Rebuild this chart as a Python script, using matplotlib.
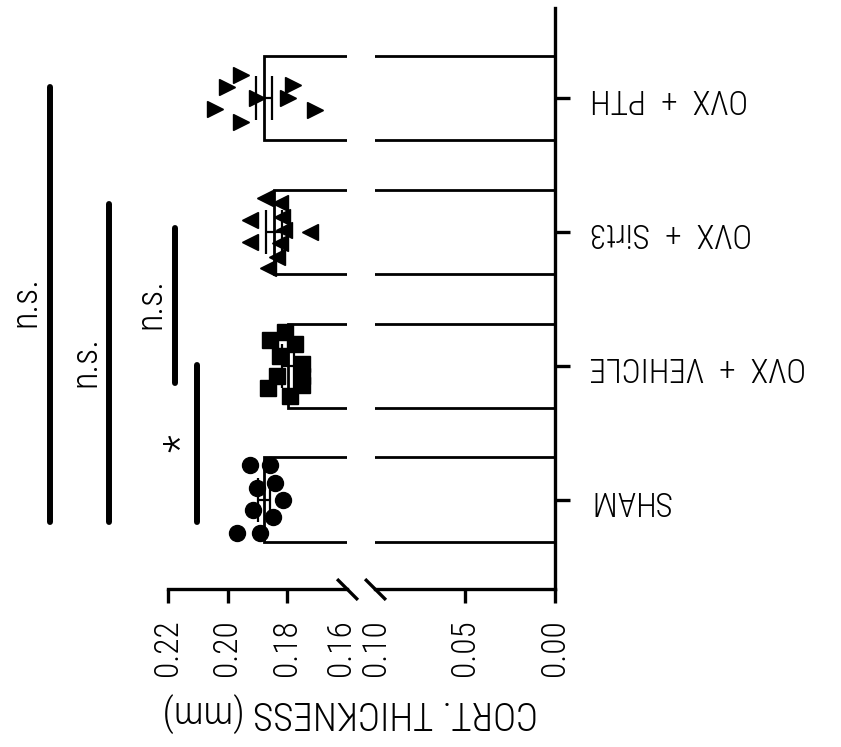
import matplotlib
matplotlib.use("Agg")
import matplotlib.pyplot as plt
from matplotlib import font_manager as fm
from matplotlib.transforms import ScaledTranslation

# ---- data -------------------------------------------------------------
groups = ["SHAM", "OVX  +  VEHICLE", "OVX  +  Sirt3", "OVX  +  PTH"]
means = [0.1876, 0.1796, 0.1843, 0.1877]
sems = [0.0020, 0.0020, 0.0026, 0.0027]

sham_vals = [0.1924, 0.1857, 0.1902, 0.1840, 0.1812, 0.1913, 0.1846, 0.1969, 0.1891]
vehicle_vals = [0.1807, 0.1857, 0.1773, 0.1824, 0.1751, 0.1750, 0.1835, 0.1863, 0.1790, 0.1751]
sirt3_vals = [0.1874, 0.1924, 0.1924, 0.1863, 0.1723, 0.1824, 0.1817, 0.1810, 0.1824, 0.1834]
pth_vals = [0.1956, 0.2003, 0.2042, 0.1956, 0.1902, 0.1779, 0.1796, 0.1706]

upper_ticks = [0.22, 0.20, 0.18]
upper_labels = ["0.22", "0.20", "0.18"]
lower_ticks = [0.05, 0.00]
lower_labels = ["0.05", "0.00"]
break_hi, break_hi_label = 0.16, "0.16"
break_lo, break_lo_label = 0.10, "0.10"

comparisons = ["*", "n.s.", "n.s.", "n.s."]

# ---- layout helpers -----------------------------------------------------
# sideways spread of the dots inside each column (category units)
sham_spread = [0.258, 0.258, 0.084, 0.121, -0.004, -0.079, -0.129, -0.253, -0.248]
vehicle_spread = [0.251, 0.193, 0.163, 0.076, 0.013, -0.074, -0.074, -0.166, -0.224, -0.141]
sirt3_spread = [0.252, 0.090, -0.073, -0.272, 0.000, 0.217, 0.112, 0.015, -0.082, -0.187]
pth_spread = [0.174, 0.087, -0.082, -0.175, 0.000, 0.100, 0.000, -0.088]

# comparison bars: (value position, start, end, label value position, label centre)
bracket_layout = [
    (0.2104, -0.166, 1.006, 0.2155, 0.42),
    (0.2176, 0.874, 2.030, 0.2260, 1.462),
    (0.2397, -0.166, 2.210, 0.2479, 1.028),
    (0.2597, -0.166, 3.088, 0.2680, 1.477),
]

# ---- fonts ----------------------------------------------------------------
available = {f.name for f in fm.fontManager.ttflist}
family = "DejaVu Sans"
for cand in ["Liberation Sans Narrow", "Roboto Condensed", "DejaVu Sans Condensed",
             "Liberation Sans"]:
    if cand in available:
        family = cand
        break
plt.rcParams["font.family"] = [family, "DejaVu Sans"]
plt.rcParams["font.weight"] = "light"

W, H = 841, 747
fig = plt.figure(figsize=(W / 100, H / 100), dpi=100)
fig.patch.set_facecolor("white")

ax_hi = fig.add_axes([168 / W, 158 / H, 178.5 / W, 581 / H])
ax_lo = fig.add_axes([375 / W, 158 / H, 180 / W, 581 / H])

pos = list(range(len(groups)))
ylim = (-0.669, 3.675)

for ax in (ax_hi, ax_lo):
    ax.barh(pos, means, height=0.63, color="white", edgecolor="black",
            linewidth=2.0, zorder=1)
    ax.set_ylim(*ylim)
    ax.set_facecolor("none")
    for s in ("top", "left", "right"):
        ax.spines[s].set_visible(False)
    ax.spines["bottom"].set_linewidth(2.4)

ax_hi.set_xlim(0.22, 0.16)
ax_lo.set_xlim(0.10, 0.0)
ax_lo.spines["right"].set_visible(True)
ax_lo.spines["right"].set_linewidth(2.4)

# value axis ticks
tick_kw = dict(direction="out", length=10, width=2.4, pad=12, labelsize=24,
               labelrotation=90)
ax_hi.set_xticks(upper_ticks, upper_labels)
ax_hi.set_xticks([break_hi], [break_hi_label], minor=True)
ax_lo.set_xticks(lower_ticks, lower_labels)
ax_lo.set_xticks([break_lo], [break_lo_label], minor=True)
for ax in (ax_hi, ax_lo):
    ax.tick_params(axis="x", which="major", **tick_kw)
    ax.tick_params(axis="x", which="minor", direction="out", length=0, width=0,
                   pad=22, labelsize=24, labelrotation=90)

# nudge the two labels at the axis break apart
for lab in ax_hi.xaxis.get_minorticklabels():
    lab.set_transform(lab.get_transform() +
                      ScaledTranslation(-4 / 72, 0, fig.dpi_scale_trans))
for lab in ax_lo.xaxis.get_minorticklabels():
    lab.set_transform(lab.get_transform() +
                      ScaledTranslation(1 / 72, 0, fig.dpi_scale_trans))

# category axis on the right
ax_hi.set_yticks([])
ax_lo.yaxis.tick_right()
ax_lo.set_yticks(pos, groups)
ax_lo.tick_params(axis="y", direction="out", length=11, width=2.4, pad=14,
                  labelsize=24, labelrotation=180)
for lab in ax_lo.get_yticklabels():
    lab.set_va("center")

# broken-axis marks
slash = [(-1, 1), (1, -1)]
ax_hi.plot([1], [0], transform=ax_hi.transAxes, marker=slash, ms=15,
           mec="black", mew=2.4, ls="none", clip_on=False)
ax_lo.plot([0], [0], transform=ax_lo.transAxes, marker=slash, ms=15,
           mec="black", mew=2.4, ls="none", clip_on=False)

# SEM error bars
ax_hi.errorbar(means, pos, xerr=sems, fmt="none", ecolor="black",
               elinewidth=1.6, capsize=16, capthick=1.6, zorder=2)

# individual animals
series = [
    (sham_vals, sham_spread, "o", 11.5),
    (vehicle_vals, vehicle_spread, "s", 11.0),
    (sirt3_vals, sirt3_spread, "<", 12.0),
    (pth_vals, pth_spread, ">", 12.0),
]
for p, (vals, spread, marker, ms) in zip(pos, series):
    ys = [p + d for d in spread]
    ax_hi.plot(vals, ys, ls="none", marker=marker, ms=ms, color="black",
               mec="black", zorder=3, clip_on=False)

# comparison bars
for (xv, y0, y1, lx, ly), lab in zip(bracket_layout, comparisons):
    ax_hi.plot([xv, xv], [y0, y1], color="black", lw=4.3,
               solid_capstyle="round", clip_on=False, zorder=4)
    ax_hi.text(lx, ly, lab, rotation=90, ha="center", va="center",
               fontsize=26 if lab != "*" else 30, clip_on=False)

fig.text(350 / W, (H - 712) / H, "CORT. THICKNESS (mm)", rotation=180,
         ha="center", va="center", fontsize=28)

fig.savefig("out.png", dpi=100, facecolor="white")
